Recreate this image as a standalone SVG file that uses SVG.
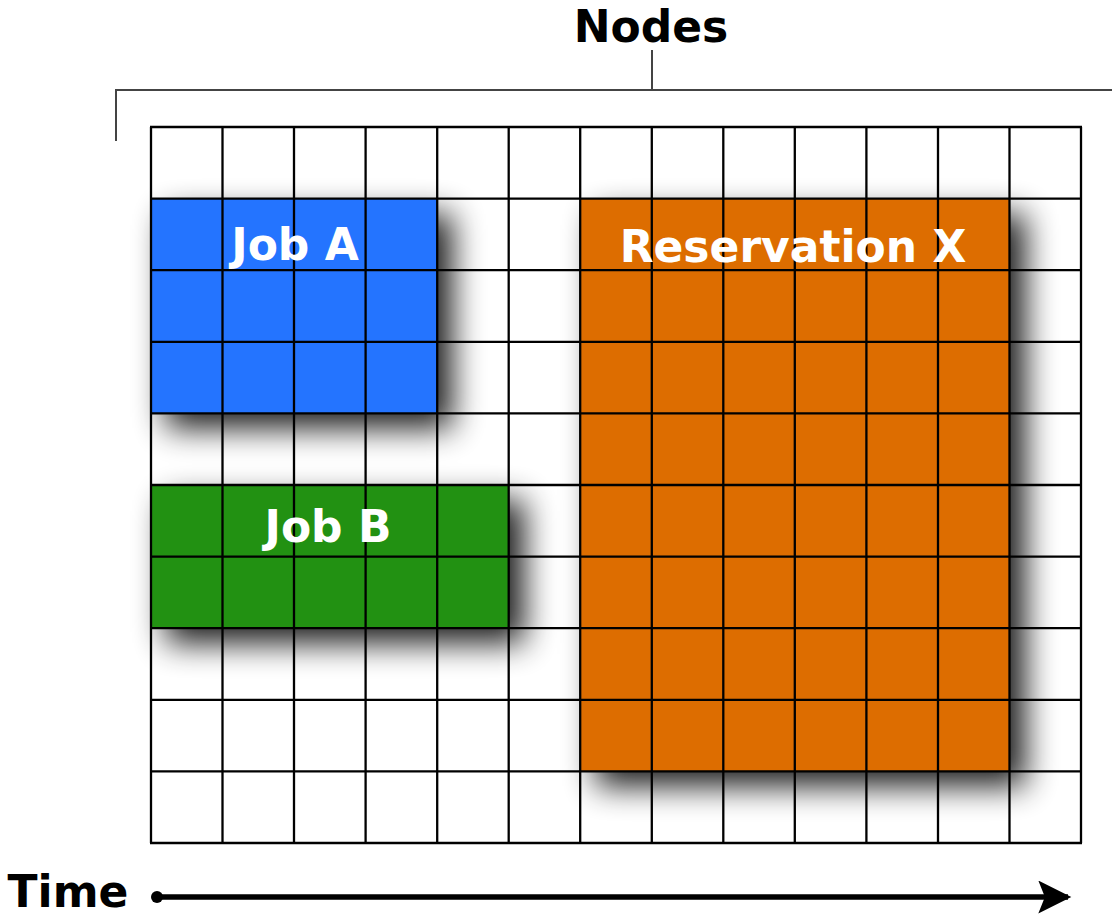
<svg xmlns="http://www.w3.org/2000/svg" width="1112" height="915" viewBox="0 0 1112 915">
<style>
.lbl{font-family:"DejaVu Sans","Verdana",sans-serif;font-weight:bold;font-size:44px;text-anchor:middle}
.w{fill:#ffffff}
.k{fill:#000000}
.grid line{stroke:#000;stroke-width:2.3}
.br{stroke:#444;stroke-width:2;fill:none}
</style>
<defs>
<filter id="sh" x="-30%" y="-30%" width="170%" height="170%">
<feGaussianBlur in="SourceAlpha" stdDeviation="16"/>
<feOffset dx="15" dy="15" result="b"/>
<feComponentTransfer><feFuncA type="linear" slope="0.9"/></feComponentTransfer>
</filter>
<marker id="ah" viewBox="0 0 10 10" refX="9" refY="5" markerWidth="7" markerHeight="6" markerUnits="strokeWidth" orient="auto">
<path d="M0,0 L10,5 L0,10 L2,5 Z" fill="#000"/>
</marker>
</defs>
<rect x="0" y="0" width="1112" height="915" fill="#fff"/>
<g id="bracket">
<text class="lbl k" x="651" y="42">Nodes</text>
<path class="br" d="M116,141 V90 H1112 M652,90 V50"/>
</g>
<g id="shadows" filter="url(#sh)">
<rect x="151" y="199" width="286" height="214" fill="#000"/>
<rect x="151" y="485" width="358" height="143" fill="#000"/>
<rect x="581" y="199" width="429" height="572" fill="#000"/>
</g>
<g id="jobA">
<rect x="151" y="199" width="286" height="214" fill="#2474FF"/>
</g>
<g id="jobB">
<rect x="151" y="485" width="358" height="143" fill="#229112"/>
</g>
<g id="resX">
<rect x="581" y="199" width="429" height="572" fill="#DD6D00"/>
</g>
<g class="grid">
<line x1="151" y1="127" x2="151" y2="843"/>
<line x1="222.5" y1="127" x2="222.5" y2="843"/>
<line x1="294" y1="127" x2="294" y2="843"/>
<line x1="365.6" y1="127" x2="365.6" y2="843"/>
<line x1="437.2" y1="127" x2="437.2" y2="843"/>
<line x1="508.7" y1="127" x2="508.7" y2="843"/>
<line x1="580.2" y1="127" x2="580.2" y2="843"/>
<line x1="651.8" y1="127" x2="651.8" y2="843"/>
<line x1="723.3" y1="127" x2="723.3" y2="843"/>
<line x1="794.8" y1="127" x2="794.8" y2="843"/>
<line x1="866.4" y1="127" x2="866.4" y2="843"/>
<line x1="938" y1="127" x2="938" y2="843"/>
<line x1="1009.5" y1="127" x2="1009.5" y2="843"/>
<line x1="1081" y1="127" x2="1081" y2="843"/>
<line x1="150" y1="127" x2="1082" y2="127"/>
<line x1="150" y1="198.6" x2="1082" y2="198.6"/>
<line x1="150" y1="270.2" x2="1082" y2="270.2"/>
<line x1="150" y1="341.8" x2="1082" y2="341.8"/>
<line x1="150" y1="413.4" x2="1082" y2="413.4"/>
<line x1="150" y1="485" x2="1082" y2="485"/>
<line x1="150" y1="556.6" x2="1082" y2="556.6"/>
<line x1="150" y1="628.2" x2="1082" y2="628.2"/>
<line x1="150" y1="699.8" x2="1082" y2="699.8"/>
<line x1="150" y1="771.4" x2="1082" y2="771.4"/>
<line x1="150" y1="843" x2="1082" y2="843"/>
</g>
<g id="labels">
<text class="lbl w" x="295" y="260">Job A</text>
<text class="lbl w" x="793" y="262">Reservation X</text>
<text class="lbl w" x="328" y="542">Job B</text>
</g>
<g id="time">
<text class="lbl k" x="68" y="907">Time</text>
</g>
<g id="connectors">
<circle cx="157" cy="897" r="6" fill="#000"/>
<line x1="157" y1="897" x2="1068" y2="897" stroke="#000" stroke-width="5.5" marker-end="url(#ah)"/>
</g>
</svg>
